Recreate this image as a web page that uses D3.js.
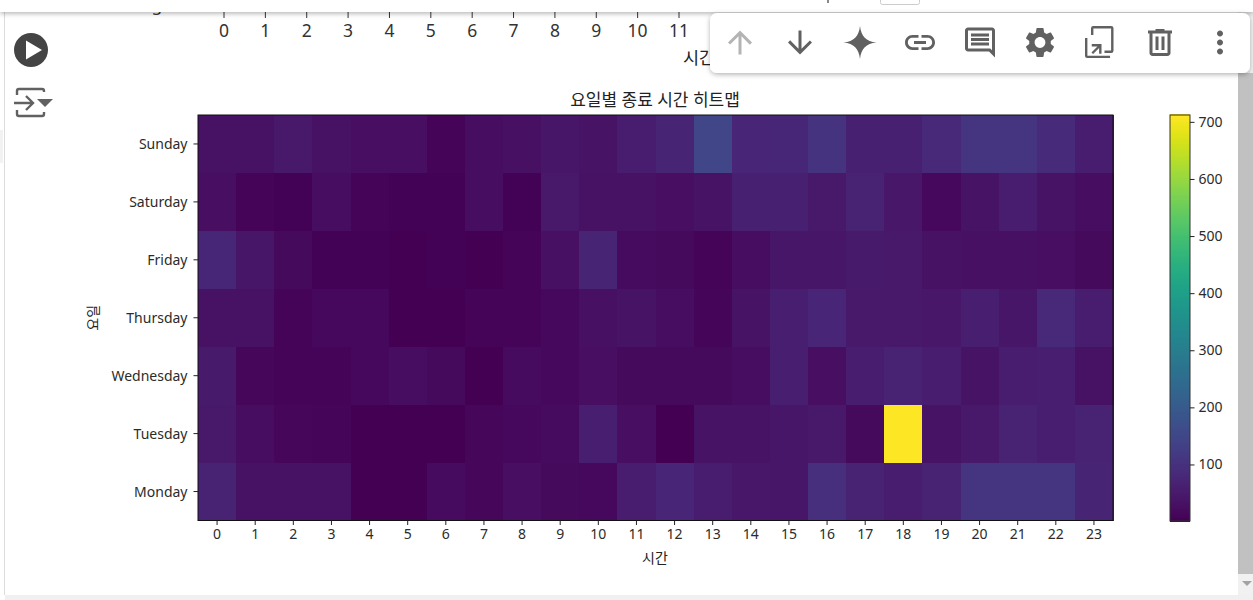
<!DOCTYPE html>
<html><head><meta charset="utf-8">
<script src="https://cdn.jsdelivr.net/npm/d3@7"></script>
<style>
html,body{margin:0;padding:0;background:#fff;overflow:hidden}
svg{display:block}
text{font-family:"Noto Sans","Noto Sans CJK KR",sans-serif;fill:#222}
</style></head><body>
<svg id="c" width="1253" height="600"></svg>
<script>
const days = ["Sunday","Saturday","Friday","Thursday","Wednesday","Tuesday","Monday"];
const hours = d3.range(24);
const sunday    = [33,33,46,33,26,28,7,24,31,42,37,55,72,150,75,77,106,64,64,80,110,110,86,55];
const saturday  = [26,9,6,24,9,4,4,24,6,48,33,33,28,35,64,64,46,68,44,16,35,55,35,24];
const friday    = [76,40,20,6,6,2,4,1,7,31,72,22,18,9,24,42,40,50,46,33,29,29,26,18];
const thursday  = [33,33,7,15,17,1,3,9,8,15,29,35,24,11,35,60,74,48,48,44,60,40,84,55];
const wednesday = [50,13,9,7,15,24,20,1,22,17,28,20,18,18,24,62,28,57,68,55,37,55,60,33];
const tuesday   = [48,24,13,11,3,1,3,13,17,22,60,26,2,35,35,42,48,20,712,37,46,68,62,68];
const monday    = [68,33,33,33,2,1,22,13,26,18,15,55,75,55,44,42,98,68,55,68,112,110,110,72];
const series = [sunday,saturday,friday,thursday,wednesday,tuesday,monday];
const colorbarTicks = [100,200,300,400,500,600,700];
const previousChartTicks = d3.range(12);
const title = "요일별 종료 시간 히트맵", xLabel = "시간", yLabel = "요일";
const domain = [1,712];

const svg = d3.select("#c");
const P = {l:198,r:1113,t:115,b:520.5};
const x = d3.scaleBand().domain(hours).range([P.l,P.r]);
const y = d3.scaleBand().domain(days).range([P.t,P.b]);
const color = d3.scaleSequential(d3.interpolateViridis).domain(domain);
const tickFont = "14px";
const inkColor = "#2b2b2b";

// notebook frame
svg.append("rect").attr("x",4).attr("y",12).attr("width",1).attr("height",583).attr("fill","#dcdcdc");
svg.append("rect").attr("x",0).attr("y",130).attr("width",3).attr("height",33).attr("fill","#f2f2f2");
svg.append("rect").attr("x",5).attr("y",595).attr("width",1248).attr("height",5).attr("fill","#f0f0f0");
svg.append("rect").attr("x",1238).attr("y",0).attr("width",15).attr("height",595).attr("fill","#f1f1f1");
svg.append("rect").attr("x",1238).attr("y",73).attr("width",15).attr("height",501).attr("fill","#c1c1c1");
svg.append("path").attr("d","M1242 581h10l-5 5z").attr("fill","#a3a3a3");

// previous chart fragment, scrolled under the header
const xPrev = d3.scaleLinear().domain([0,11]).range([224,679]);
const prev = svg.append("g");
prev.selectAll("line").data(previousChartTicks).join("line")
  .attr("x1",d=>xPrev(d)).attr("x2",d=>xPrev(d)).attr("y1",12).attr("y2",18).attr("stroke","#333");
prev.selectAll("text").data(previousChartTicks).join("text")
  .attr("x",d=>xPrev(d)).attr("y",37).attr("text-anchor","middle").style("font-size","17.5px").style("fill","#333").text(d=>d);
prev.append("text").attr("x",683).attr("y",64).style("font-size","17.5px").text(xLabel);
prev.append("text").attr("x",157).attr("y",11).attr("text-anchor","middle").style("font-size","17.5px").style("fill","#333").text("g");

// heatmap
const rows = svg.append("g").attr("shape-rendering","crispEdges").selectAll("g").data(series).join("g")
  .attr("transform",(d,i)=>`translate(0,${y(days[i])})`);
rows.selectAll("rect").data(d=>d).join("rect")
  .attr("x",(d,i)=>x(hours[i])).attr("y",0)
  .attr("width",x.bandwidth()+.5).attr("height",y.bandwidth()+.5)
  .attr("fill",d=>color(d));
svg.append("rect").attr("x",P.l).attr("y",P.t).attr("width",P.r-P.l).attr("height",P.b-P.t)
  .attr("fill","none").attr("stroke","#111").attr("stroke-width",1);

// axes
const xAxis = svg.append("g").attr("transform",`translate(0,${P.b})`)
  .call(d3.axisBottom(x).tickSize(4.5).tickPadding(4));
const yAxis = svg.append("g").attr("transform",`translate(${P.l},0)`)
  .call(d3.axisLeft(y).tickSize(4.5).tickPadding(6));
[xAxis,yAxis].forEach(a=>{a.select(".domain").remove();
  a.selectAll("text").style("font-size",tickFont).style("font-family",'"Noto Sans","Noto Sans CJK KR",sans-serif').style("fill",inkColor);
  a.selectAll("line").attr("stroke","#222");});
yAxis.selectAll("text").attr("dy","0.38em");

svg.append("text").attr("x",655).attr("y",106).attr("text-anchor","middle").style("font-size","17px").text(title);
svg.append("text").attr("x",655).attr("y",563).attr("text-anchor","middle").style("font-size","14px").text(xLabel);
svg.append("text").attr("transform",`translate(98,${(P.t+P.b)/2}) rotate(-90)`).attr("text-anchor","middle").style("font-size","14px").text(yLabel);

// colorbar
const cb = {x:1170,w:20};
const cy = d3.scaleLinear().domain(domain).range([521,115]);
const steps = d3.range(domain[0],domain[1],2);
svg.append("g").attr("shape-rendering","crispEdges").selectAll("rect").data(steps).join("rect")
  .attr("x",cb.x).attr("width",cb.w).attr("y",d=>cy(d+2)).attr("height",d=>cy(d)-cy(d+2)+.6).attr("fill",d=>color(d+1));
svg.append("rect").attr("x",cb.x).attr("y",115).attr("width",cb.w).attr("height",406).attr("fill","none").attr("stroke","#333");
const cAxis = svg.append("g").attr("transform",`translate(${cb.x+cb.w},0)`)
  .call(d3.axisRight(cy).tickValues(colorbarTicks).tickSize(4.5).tickPadding(4));
cAxis.select(".domain").remove();
cAxis.selectAll("text").style("font-size",tickFont).style("font-family",'"Noto Sans",sans-serif').style("fill",inkColor);
cAxis.selectAll("line").attr("stroke","#222");

// header bar
const defs = svg.append("defs");
const f = defs.append("filter").attr("id","sh").attr("x","-5%").attr("y","-30%").attr("width","110%").attr("height","170%");
f.append("feDropShadow").attr("dx",0).attr("dy",1.5).attr("stdDeviation",2.5).attr("flood-color","#000").attr("flood-opacity",.3);
svg.append("rect").attr("x",0).attr("y",-10).attr("width",1253).attr("height",22).attr("fill","#fff").attr("filter","url(#sh)");
svg.append("rect").attr("x",880.5).attr("y",-5).attr("width",39).attr("height",9.5).attr("rx",2).attr("fill","#fff").attr("stroke","#ccc");
svg.append("rect").attr("x",827).attr("y",0).attr("width",2).attr("height",3).attr("fill","#888");

// run buttons
svg.append("circle").attr("cx",31).attr("cy",50).attr("r",17).attr("fill","#444");
svg.append("path").attr("d","M26 40.5L42 50L26 59.5z").attr("fill","#fff");
const g2 = svg.append("g").attr("fill","none").attr("stroke","#616161").attr("stroke-width",2.4);
g2.append("path").attr("d","M17 95v-4q0-2 2-2h23q2 0 2 2v1M17 110v4q0 2 2 2h23q2 0 2-2v-2");
g2.append("path").attr("d","M14 103h19M26 96l7 7-7 7");
svg.append("path").attr("d","M37 99h16l-8 8z").attr("fill","#616161");

// toolbar
svg.append("rect").attr("x",710).attr("y",13).attr("width",540).attr("height",60).attr("rx",7).attr("fill","#fff").attr("filter","url(#sh)");
const toolIcons = [
 {cx:740,c:"#b4b4b4",d:"M4 12l1.41 1.41L11 7.83V20h2V7.83l5.58 5.59L20 12l-8-8-8 8z"},
 {cx:800,c:"#616161",d:"M20 12l-1.41-1.41L13 16.17V4h-2v12.17l-5.58-5.59L4 12l8 8 8-8z"},
 {cx:860,c:"#616161",d:"M12 1C12.8 8 16 11.2 23 12C16 12.8 12.8 16 12 23C11.2 16 8 12.8 1 12C8 11.2 11.2 8 12 1z"},
 {cx:920,c:"#616161",d:"M3.9 12c0-1.71 1.39-3.1 3.1-3.1h4V7H7c-2.76 0-5 2.24-5 5s2.24 5 5 5h4v-1.9H7c-1.71 0-3.1-1.39-3.1-3.1zM8 13h8v-2H8v2zm9-6h-4v1.9h4c1.71 0 3.1 1.39 3.1 3.1s-1.39 3.1-3.1 3.1h-4V17h4c2.76 0 5-2.24 5-5s-2.24-5-5-5z"},
 {cx:980,c:"#616161",d:"M21.99 4c0-1.1-.89-2-1.99-2H4c-1.1 0-2 .9-2 2v12c0 1.1.9 2 2 2h14l4 4-.01-18zM20 4v13.17L18.83 16H4V4h16zM6 12h12v2H6zm0-3h12v2H6zm0-3h12v2H6z"},
 {cx:1040,c:"#616161",d:"M19.14 12.94c.04-.3.06-.61.06-.94 0-.32-.02-.64-.07-.94l2.03-1.58c.18-.14.23-.41.12-.61l-1.92-3.32c-.12-.22-.37-.29-.59-.22l-2.39.96c-.5-.38-1.03-.7-1.62-.94l-.36-2.54c-.04-.24-.24-.41-.48-.41h-3.84c-.24 0-.43.17-.47.41l-.36 2.54c-.59.24-1.13.57-1.62.94l-2.39-.96c-.22-.08-.47 0-.59.22L2.74 8.87c-.12.21-.08.47.12.61l2.03 1.58c-.05.3-.09.63-.09.94s.02.64.07.94l-2.03 1.58c-.18.14-.23.41-.12.61l1.92 3.32c.12.22.37.29.59.22l2.39-.96c.5.38 1.03.7 1.62.94l.36 2.54c.05.24.24.41.48.41h3.84c.24 0 .44-.17.47-.41l.36-2.54c.59-.24 1.13-.56 1.62-.94l2.39.96c.22.08.47 0 .59-.22l1.92-3.32c.12-.22.07-.47-.12-.61l-2.01-1.58zM12 15.6c-1.98 0-3.6-1.62-3.6-3.6s1.62-3.6 3.6-3.6 3.6 1.62 3.6 3.6-1.62 3.6-3.6 3.6z"},
 {cx:1100,c:"#616161",d:"M6 7V2.5Q6 1 7.5 1H19.5Q21 1 21 2.5V17.5Q21 19 19.5 19H15V17.4H19.4V2.6H7.6V7zM2 9H3.6V20.8H18.7V22.4H3.5Q2 22.4 2 21zM6.5 13H13V19.5H11.4V15.7L7.4 19.7L6.3 18.6L10.3 14.6H6.5z"},
 {cx:1160,c:"#616161",d:"M15 4V3H9v1H4v2h1v13c0 1.1.9 2 2 2h10c1.1 0 2-.9 2-2V6h1V4h-5zm2 15H7V6h10v13zM9 8h2v9H9zm4 0h2v9h-2z"},
 {cx:1220,c:"#616161",d:"M12 8c1.1 0 2-.9 2-2s-.9-2-2-2-2 .9-2 2 .9 2 2 2zm0 2c-1.1 0-2 .9-2 2s.9 2 2 2 2-.9 2-2-.9-2-2-2zm0 6c-1.1 0-2 .9-2 2s.9 2 2 2 2-.9 2-2-.9-2-2-2z"}
];
svg.append("g").selectAll("path").data(toolIcons).join("path")
  .attr("transform",d=>`translate(${d.cx-18},24.5) scale(1.5)`)
  .attr("d",d=>d.d).attr("fill",d=>d.c);
</script></body></html>
